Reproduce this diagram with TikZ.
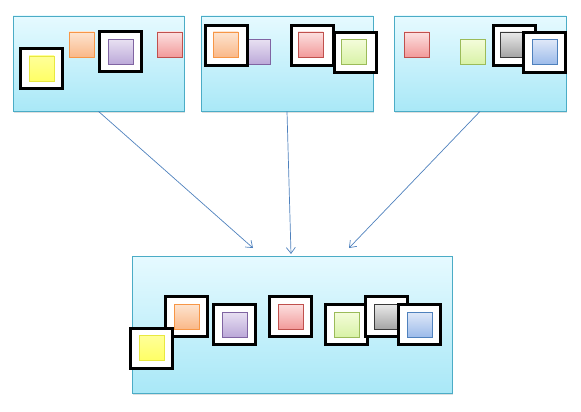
\documentclass[tikz,border=0pt]{standalone}
\usetikzlibrary{arrows.meta,shadows}
\definecolor{panelline}{HTML}{4BACC6}
\definecolor{paneltop}{HTML}{E6FAFF}
\definecolor{panelbot}{HTML}{A9E8F7}
\definecolor{linkblue}{HTML}{4F81BD}
\definecolor{yellowline}{HTML}{E8E840}\definecolor{yellowtop}{HTML}{FFFF99}\definecolor{yellowbot}{HTML}{FFFF66}
\definecolor{orangeline}{HTML}{F79646}\definecolor{orangetop}{HTML}{FDE4D0}\definecolor{orangebot}{HTML}{FAB888}
\definecolor{purpleline}{HTML}{8064A2}\definecolor{purpletop}{HTML}{E8E0F2}\definecolor{purplebot}{HTML}{BBA8D8}
\definecolor{redline}{HTML}{C0504D}\definecolor{redtop}{HTML}{FCE0E0}\definecolor{redbot}{HTML}{F29A9A}
\definecolor{greenline}{HTML}{9BBB59}\definecolor{greentop}{HTML}{F4FCDA}\definecolor{greenbot}{HTML}{D8F2A6}
\definecolor{grayline}{HTML}{3A3A3A}\definecolor{graytop}{HTML}{EAEAEA}\definecolor{graybot}{HTML}{A4A4A4}
\definecolor{blueline}{HTML}{4F81BD}\definecolor{bluetop}{HTML}{DFE8F8}\definecolor{bluebot}{HTML}{9CBBEA}
\tikzset{
  panel/.style={draw=panelline,line width=.8pt,top color=paneltop,bottom color=panelbot,inner sep=0pt,
    drop shadow={shadow xshift=1pt,shadow yshift=-1.5pt,opacity=.25}},
  tile/.style={draw=#1line,top color=#1top,bottom color=#1bot,line width=.8pt,minimum size=25pt,inner sep=0pt},
  frame/.style={draw=black,fill=white,line width=3pt,minimum width=42pt,minimum height=40pt,inner sep=0pt},
  link/.style={draw=linkblue,line width=.7pt,-{Straight Barb[length=6pt,width=9pt]}}
}
\begin{document}
\begin{tikzpicture}[x=1pt,y=-1pt]
\useasboundingbox(0,0)rectangle(581,412);
% source panels and target panel
\node[panel,minimum width=171pt,minimum height=95pt](p1)at(98.5,63.5){};
\node[panel,minimum width=172pt,minimum height=95pt](p2)at(287,63.5){};
\node[panel,minimum width=172pt,minimum height=95pt](p3)at(480,63.5){};
\node[panel,minimum width=320pt,minimum height=137pt](q)at(292,324.5){};
\coordinate(e1)at(253,248);\coordinate(e2)at(291,254);\coordinate(e3)at(349,248);
\draw[link](p1.south)--(e1);
\draw[link](p2.south)--(e2);
\draw[link](p3.south)--(e3);
% panel 1
\node[frame](f1y)at(41.5,68.5){};\node[tile=yellow](t1y)at(f1y){};
\node[tile=orange](t1o)at(81.5,44.5){};
\node[frame](f1p)at(120.5,52){};\node[tile=purple](t1p)at(f1p){};
\node[tile=red](t1r)at(169.5,44.5){};
% panel 2
\node[tile=purple](t2p)at(257.5,52){};
\node[frame](f2o)at(226,46){};\node[tile=orange](t2o)at(225.5,44.5){};
\node[frame](f2r)at(312,46){};\node[tile=red](t2r)at(310.5,44.5){};
\node[frame](f2g)at(355,53){};\node[tile=green](t2g)at(353.5,52){};
% panel 3
\node[tile=red](t3r)at(416.5,44.5){};
\node[tile=green](t3g)at(472.5,52){};
\node[frame](f3k)at(514,46){};\node[tile=gray](t3k)at(512.5,44.5){};
\node[frame](f3b)at(544,53){};\node[tile=blue](t3b)at(544.5,52){};
% merged panel
\node[frame](fo)at(186.5,316.5){};\node[tile=orange](to)at(fo){};
\node[frame](fy)at(151.5,348){};\node[tile=yellow](ty)at(152,347.5){};
\node[frame](fp)at(234.5,324.5){};\node[tile=purple](tp)at(fp){};
\node[frame](fr)at(290.5,316.5){};\node[tile=red](tr)at(fr){};
\node[frame](fg)at(346.5,324.5){};\node[tile=green](tg)at(fg){};
\node[frame](fk)at(386.5,316.5){};\node[tile=gray](tk)at(fk){};
\node[frame](fb)at(419.5,324.5){};\node[tile=blue](tb)at(fb){};
\end{tikzpicture}
\end{document}
